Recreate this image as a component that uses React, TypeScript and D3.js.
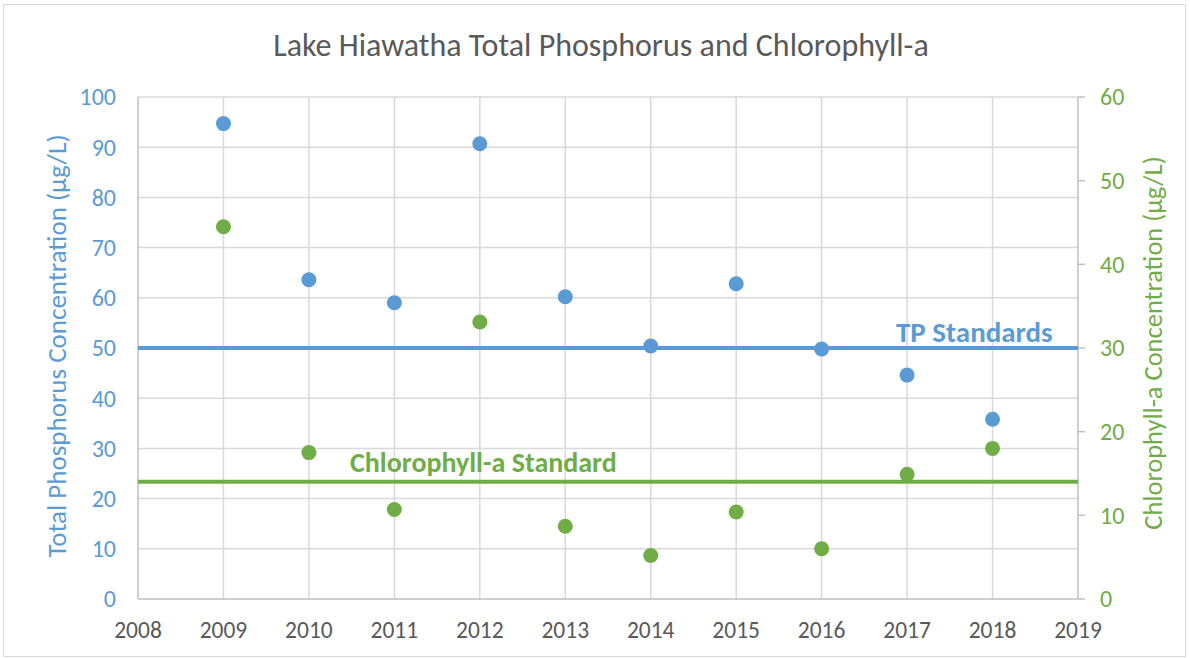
import React from "react";
import * as d3 from "d3";

const years = [2009, 2010, 2011, 2012, 2013, 2014, 2015, 2016, 2017, 2018];
const tpValues = [94.7, 63.6, 59.0, 90.7, 60.2, 50.4, 62.8, 49.8, 44.6, 35.8];
const chlValues = [44.5, 17.5, 10.7, 33.1, 8.7, 5.2, 10.4, 6.0, 14.9, 18.0];
const xTicks = [2008, 2009, 2010, 2011, 2012, 2013, 2014, 2015, 2016, 2017, 2018, 2019];
const tpTicks = [0, 10, 20, 30, 40, 50, 60, 70, 80, 90, 100];
const chlTicks = [0, 10, 20, 30, 40, 50, 60];
const tpStandard = 50;
const chlStandard = 14;

const BLUE = "#5B9BD5";
const GREEN = "#70AD47";
const GRID = "#d9d9d9";
const AXIS = "#bfbfbf";
const TEXT = "#595959";
const FONT = "Carlito, Calibri, Lato, sans-serif";

const width = 1190;
const height = 658;
const margin = { left: 138, right: 112, top: 97, bottom: 59 };

export default function App() {
  const plotW = width - margin.left - margin.right;
  const plotH = height - margin.top - margin.bottom;

  const x = d3.scaleLinear().domain([2008, 2019]).range([0, plotW]);
  const yTP = d3.scaleLinear().domain([0, 100]).range([plotH, 0]);
  const yChl = d3.scaleLinear().domain([0, 60]).range([plotH, 0]);

  return (
    <svg
      width={width}
      height={height}
      style={{ position: "absolute", left: 0, top: 0, background: "#fff" }}
      fontFamily={FONT}
    >
      <rect x={3.5} y={4.5} width={width - 8} height={height - 6} fill="#fff" stroke="#d9d9d9" />
      <text x={601} y={56} textAnchor="middle" fontSize={32} fill={TEXT}>
        Lake Hiawatha Total Phosphorus and Chlorophyll-a
      </text>
      <g transform={`translate(${margin.left},${margin.top})`}>
        {tpTicks.slice(1).map(t => (
          <line key={"h" + t} x1={0} x2={plotW} y1={yTP(t)} y2={yTP(t)} stroke={GRID} strokeWidth={1.5} />
        ))}
        {xTicks.slice(1, -1).map(t => (
          <line key={"v" + t} x1={x(t)} x2={x(t)} y1={0} y2={plotH} stroke={GRID} strokeWidth={1.5} />
        ))}
        <line x1={0} x2={0} y1={0} y2={plotH} stroke={AXIS} strokeWidth={1.5} />
        <line x1={0} x2={plotW} y1={plotH} y2={plotH} stroke={AXIS} strokeWidth={1.5} />
        <line x1={plotW} x2={plotW} y1={0} y2={plotH} stroke={AXIS} strokeWidth={1.5} />
        {chlTicks.map(t => (
          <line key={"rt" + t} x1={plotW} x2={plotW + 7} y1={yChl(t)} y2={yChl(t)} stroke={AXIS} strokeWidth={1.5} />
        ))}

        <line x1={0} x2={plotW} y1={yTP(tpStandard)} y2={yTP(tpStandard)} stroke={BLUE} strokeWidth={4} />
        <line x1={0} x2={plotW} y1={yChl(chlStandard)} y2={yChl(chlStandard)} stroke={GREEN} strokeWidth={4} />

        {years.map((yr, i) => (
          <circle key={"tp" + yr} cx={x(yr)} cy={yTP(tpValues[i])} r={7.5} fill={BLUE} />
        ))}
        {years.map((yr, i) => (
          <circle key={"chl" + yr} cx={x(yr)} cy={yChl(chlValues[i])} r={7.5} fill={GREEN} />
        ))}

        <text x={758} y={yTP(tpStandard) - 6.5} fontSize={29} fontWeight="bold" fill={BLUE}>
          TP Standards
        </text>
        <text x={212} y={yChl(chlStandard) - 10} fontSize={28} fontWeight="bold" fill={GREEN}>
          Chlorophyll-a Standard
        </text>

        {tpTicks.map(t => (
          <text key={"lt" + t} x={-22} y={yTP(t)} dy="0.35em" textAnchor="end" fontSize={24} fill={BLUE}>
            {t}
          </text>
        ))}
        {chlTicks.map(t => (
          <text key={"rl" + t} x={plotW + 22} y={yChl(t)} dy="0.35em" textAnchor="start" fontSize={24} fill={GREEN}>
            {t}
          </text>
        ))}
        {xTicks.map(t => (
          <text key={"xl" + t} x={x(t)} y={plotH + 39} textAnchor="middle" fontSize={23.5} fill={TEXT}>
            {t}
          </text>
        ))}

        <text
          transform={`translate(${-72},${plotH / 2 - 2}) rotate(-90)`}
          textAnchor="middle"
          fontSize={27}
          fill={BLUE}
        >
          Total Phosphorus Concentration (µg/L)
        </text>
        <text
          transform={`translate(${plotW + 84},${plotH / 2 - 5}) rotate(-90)`}
          textAnchor="middle"
          fontSize={26.5}
          fill={GREEN}
        >
          Chlorophyll-a Concentration (µg/L)
        </text>
      </g>
    </svg>
  );
}
